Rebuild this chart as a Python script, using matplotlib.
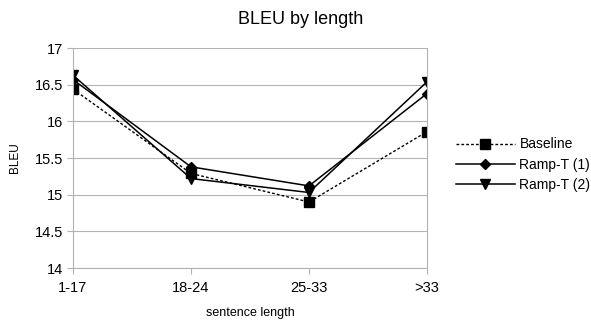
import matplotlib
matplotlib.use("Agg")
import matplotlib.pyplot as plt

plt.rcParams['font.family'] = ['Liberation Sans', 'DejaVu Sans']

categories = ["1-17", "18-24", "25-33", ">33"]
baseline = [16.44, 15.29, 14.90, 15.86]
ramp1 = [16.57, 15.38, 15.12, 16.38]
ramp2 = [16.63, 15.22, 15.03, 16.54]
yticks = [14, 14.5, 15, 15.5, 16, 16.5, 17]

fig = plt.figure(figsize=(5.91, 3.22), dpi=100)
ax = fig.add_axes([0.1235, 0.1677, 0.599, 0.683])

x = list(range(len(categories)))
ax.plot(x, baseline, color='black', lw=1, ls=(0, (2, 1.5)), marker='s', ms=7, label='Baseline')
ax.plot(x, ramp1, color='black', lw=1.1, marker='D', ms=5, label='Ramp-T (1)')
ax.plot(x, ramp2, color='black', lw=1.1, marker='v', ms=7, label='Ramp-T (2)')

ax.set_xlim(0, 3)
ax.set_ylim(14, 17)
ax.set_yticks(yticks)
ax.set_yticklabels([f"{v:g}" for v in yticks])
ax.set_xticks(x)
ax.set_xticklabels(categories)
ax.grid(axis='y', color='#b3b3b3', lw=0.8)
ax.set_axisbelow(True)
for s in ['left', 'bottom', 'right']:
    ax.spines[s].set_color('#b3b3b3')
    ax.spines[s].set_linewidth(0.8)
ax.spines['top'].set_visible(False)
ax.tick_params(axis='both', colors='#b3b3b3', labelcolor='black', labelsize=10.5, length=4, width=0.8)
ax.tick_params(axis='y', pad=3)
ax.tick_params(axis='x', pad=5)

ax.set_xlabel('sentence length', fontsize=9, labelpad=9)
ax.set_ylabel('BLEU', fontsize=8.5, labelpad=10)
fig.text(0.508, 0.94, 'BLEU by length', ha='center', va='center', fontsize=13)

leg = ax.legend(loc='center left', bbox_to_anchor=(1.057, 0.47), frameon=False,
                fontsize=10, handlelength=4.3, handletextpad=0.3, labelspacing=0.45,
                borderaxespad=0.2)

fig.savefig('out.png', dpi=100)
